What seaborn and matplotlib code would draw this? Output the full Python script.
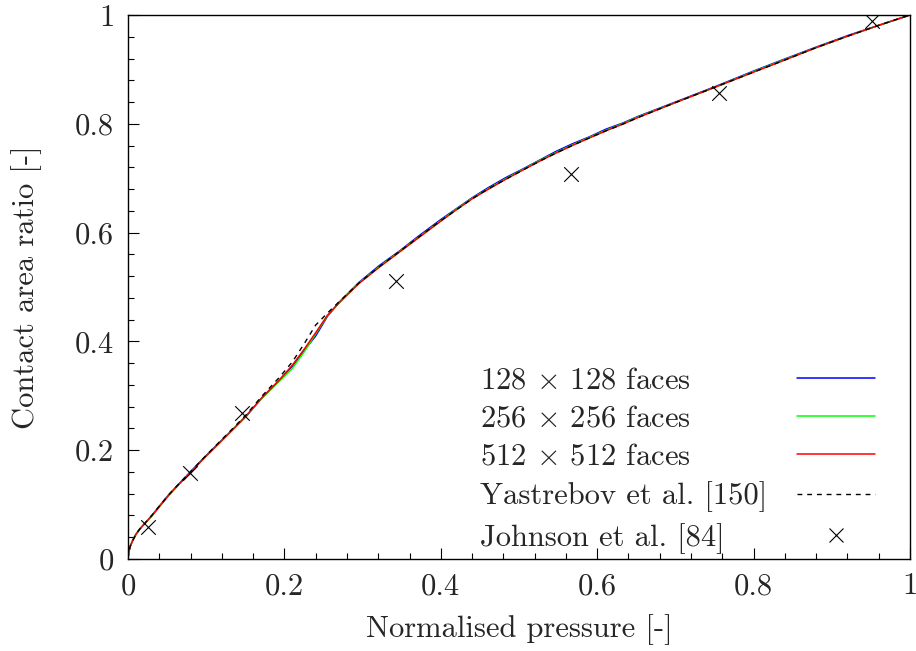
import numpy as np
import pandas as pd
import matplotlib
matplotlib.use("Agg")
import matplotlib.pyplot as plt
from matplotlib.ticker import MultipleLocator, FuncFormatter
from matplotlib.lines import Line2D
import seaborn as sns

# normalised pressure samples along the curves
pressure = [0.0, 0.001, 0.003, 0.006, 0.01, 0.015, 0.02, 0.031, 0.04, 0.052,
            0.065, 0.079, 0.097, 0.116, 0.134, 0.151, 0.171, 0.193, 0.21, 0.225,
            0.24, 0.255, 0.27, 0.295, 0.321, 0.347, 0.372, 0.40, 0.42, 0.44,
            0.46, 0.483, 0.505, 0.526, 0.547, 0.568, 0.59, 0.611, 0.632, 0.653,
            0.70, 0.752, 0.80, 0.836, 0.88, 0.922, 0.96, 1.0]

# contact area ratio for each mesh
area_128 = [0.0, 0.013, 0.024, 0.034, 0.045, 0.055, 0.063, 0.081, 0.097, 0.118,
            0.138, 0.159, 0.186, 0.213, 0.238, 0.262, 0.296, 0.328, 0.354, 0.383,
            0.410, 0.446, 0.472, 0.508, 0.539, 0.566, 0.594, 0.624, 0.644, 0.664,
            0.682, 0.701, 0.717, 0.733, 0.749, 0.763, 0.776, 0.790, 0.801, 0.814,
            0.840, 0.869, 0.897, 0.917, 0.941, 0.963, 0.981, 1.0]
area_256 = [0.0, 0.013, 0.024, 0.034, 0.045, 0.055, 0.063, 0.080, 0.096, 0.117,
            0.137, 0.158, 0.185, 0.212, 0.238, 0.263, 0.295, 0.326, 0.350, 0.380,
            0.414, 0.447, 0.471, 0.507, 0.537, 0.565, 0.592, 0.622, 0.643, 0.663,
            0.680, 0.699, 0.716, 0.732, 0.747, 0.761, 0.775, 0.788, 0.800, 0.813,
            0.839, 0.868, 0.896, 0.916, 0.940, 0.962, 0.981, 1.0]
area_512 = [0.0, 0.013, 0.024, 0.034, 0.045, 0.055, 0.063, 0.080, 0.096, 0.117,
            0.137, 0.158, 0.185, 0.212, 0.238, 0.263, 0.296, 0.328, 0.356, 0.385,
            0.416, 0.448, 0.471, 0.506, 0.536, 0.564, 0.591, 0.621, 0.642, 0.662,
            0.679, 0.698, 0.715, 0.731, 0.746, 0.760, 0.774, 0.787, 0.799, 0.812,
            0.839, 0.868, 0.895, 0.915, 0.940, 0.962, 0.981, 1.0]
# Yastrebov et al. reference curve
area_yas = [0.0, 0.013, 0.024, 0.034, 0.045, 0.055, 0.063, 0.081, 0.097, 0.118,
            0.138, 0.159, 0.186, 0.214, 0.240, 0.265, 0.299, 0.333, 0.362, 0.395,
            0.430, 0.452, 0.473, 0.507, 0.537, 0.565, 0.592, 0.622, 0.642, 0.662,
            0.680, 0.698, 0.715, 0.731, 0.746, 0.760, 0.774, 0.787, 0.799, 0.812,
            0.839, 0.868, 0.895, 0.915, 0.940, 0.962, 0.981, 1.0]

# Johnson et al. points
johnson_p = [0.026, 0.079, 0.146, 0.343, 0.566, 0.756, 0.951]
johnson_a = [0.059, 0.158, 0.269, 0.511, 0.707, 0.856, 0.989]

labels = [r"128 $\times$ 128 faces", r"256 $\times$ 256 faces",
          r"512 $\times$ 512 faces", "Yastrebov et al. [150]",
          "Johnson et al. [84]"]
tick_vals = [0, 0.2, 0.4, 0.6, 0.8, 1.0]

sns.set_style("ticks")
plt.rcParams['font.family'] = ['cmr10', 'DejaVu Serif']
plt.rcParams['mathtext.fontset'] = 'cm'
plt.rcParams['axes.formatter.use_mathtext'] = True
plt.rcParams['axes.unicode_minus'] = False

fig = plt.figure(figsize=(9.16, 6.51), dpi=100)
ax = fig.add_axes([128 / 916, 1 - 559 / 651, 782 / 916, 544 / 651])

df = pd.DataFrame({'p': pressure, 'a128': area_128, 'a256': area_256,
                   'a512': area_512, 'yas': area_yas})

lw = 1.1
sns.lineplot(data=df, x='p', y='a128', color='blue', lw=lw, ax=ax,
             estimator=None, sort=False, legend=False)
sns.lineplot(data=df, x='p', y='a256', color='#00ff00', lw=lw, ax=ax,
             estimator=None, sort=False, legend=False)
sns.lineplot(data=df, x='p', y='a512', color='red', lw=lw, ax=ax,
             estimator=None, sort=False, legend=False)
sns.lineplot(data=df, x='p', y='yas', color='black', lw=1.0, ax=ax,
             estimator=None, sort=False, legend=False)
ax.lines[-1].set_dashes([3.5, 3.5])
sns.scatterplot(x=johnson_p, y=johnson_a, marker='x', color='black', s=110,
                linewidth=0.8, ax=ax, legend=False, zorder=5)

ax.set_xlim(0, 1)
ax.set_ylim(0, 1)
ax.set_xticks(tick_vals)
ax.set_yticks(tick_vals)
ax.xaxis.set_minor_locator(MultipleLocator(0.04))
ax.yaxis.set_minor_locator(MultipleLocator(0.04))
fmt = FuncFormatter(lambda v, pos: "%g" % v)
ax.xaxis.set_major_formatter(fmt)
ax.yaxis.set_major_formatter(fmt)
ax.tick_params(which='both', direction='in', top=False, right=False,
               labelsize=22, width=0.8, color='black')
ax.tick_params(which='major', length=8, pad=10)
ax.tick_params(which='minor', length=4)
for sp in ax.spines.values():
    sp.set_linewidth(1.0)
    sp.set_color('black')

ax.set_xlabel("Normalised pressure [-]", fontsize=22, labelpad=10)
ax.set_ylabel("Contact area ratio [-]", fontsize=22, labelpad=24)

handles = [Line2D([], [], color='blue', lw=lw),
           Line2D([], [], color='#00ff00', lw=lw),
           Line2D([], [], color='red', lw=lw),
           Line2D([], [], color='black', lw=1.0, dashes=[3.5, 3.5]),
           Line2D([], [], color='black', ls='', marker='x', ms=10, mew=0.8)]
blank = [Line2D([], [], color='none') for _ in labels]

leg_kw = dict(loc='upper left', bbox_transform=fig.transFigure, frameon=False,
              fontsize=22, borderpad=0, borderaxespad=0, labelspacing=0.35)
leg1 = ax.legend(blank, labels, bbox_to_anchor=(480 / 916, 1 - 367 / 651),
                 handlelength=0, handletextpad=0, **leg_kw)
ax.add_artist(leg1)
leg2 = ax.legend(handles, labels, bbox_to_anchor=(797 / 916, 1 - 367 / 651),
                 handlelength=2.55, handletextpad=0, **leg_kw)
for t in leg2.get_texts():
    t.set_visible(False)

fig.savefig("out.png", dpi=100)
